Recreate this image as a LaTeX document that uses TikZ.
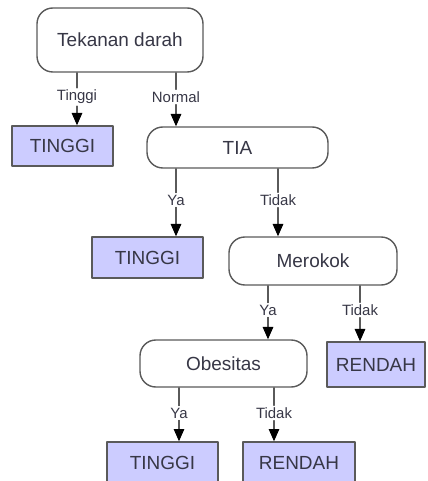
\documentclass[tikz,border=0pt]{standalone}
\usepackage{fontspec}
\setmainfont{Liberation Sans}
\usetikzlibrary{arrows.meta}
\definecolor{treeline}{RGB}{90,90,90}
\definecolor{treeleaf}{RGB}{204,204,255}
\definecolor{treetext}{RGB}{55,55,70}

\begin{document}
\begin{tikzpicture}[>={Triangle[length=7pt,width=6pt,color=black]},line cap=round,line join=round,
 attr/.style={draw=treeline,line width=0.8pt,rounded corners=9pt,fill=white,
  font=\fontsize{10.8}{12}\selectfont,text=treetext,inner sep=0pt},
 leaf/.style={draw=treeline,line width=0.8pt,fill=treeleaf,
  font=\fontsize{10.8}{12}\selectfont,text=treetext,inner sep=0pt},
 branch/.style={font=\fontsize{8.5}{10}\selectfont,text=treetext,inner sep=1pt},
 conn/.style={draw=treeline,line width=0.6pt}]
 \useasboundingbox (0,0) rectangle (8.54,-9.62);
 % Akar: tekanan darah.
 \node[attr,minimum width=3.32cm,minimum height=1.28cm] (td) at (2.40,-0.80) {Tekanan darah};
 \node[leaf,minimum width=2.02cm,minimum height=0.80cm] (t1) at (1.25,-2.92) {TINGGI};
 \node[attr,minimum width=3.62cm,minimum height=0.82cm] (tia) at (4.75,-2.95) {TIA};
 % Cabang TIA.
 \node[leaf,minimum width=2.22cm,minimum height=0.82cm] (t2) at (2.95,-5.15) {TINGGI};
 \node[attr,minimum width=3.36cm,minimum height=0.96cm] (mer) at (6.26,-5.22) {Merokok};
 % Cabang merokok.
 \node[attr,minimum width=3.34cm,minimum height=0.94cm] (obe) at (4.47,-7.27) {Obesitas};
 \node[leaf,minimum width=1.96cm,minimum height=0.90cm] (r1) at (7.52,-7.29) {RENDAH};
 % Cabang obesitas.
 \node[leaf,minimum width=2.22cm,minimum height=0.82cm] (t3) at (3.25,-9.25) {TINGGI};
 \node[leaf,minimum width=2.24cm,minimum height=0.82cm] (r2) at (5.98,-9.25) {RENDAH};
 % Label cabang.
 \node[branch] (lt) at (1.54,-1.94) {Tinggi};
 \node[branch] (ln) at (3.52,-1.94) {Normal};
 \node[branch] (ly1) at (3.52,-4.00) {Ya};
 \node[branch] (lt1) at (5.56,-4.00) {Tidak};
 \node[branch] (ly2) at (5.36,-6.20) {Ya};
 \node[branch] (lt2) at (7.20,-6.20) {Tidak};
 \node[branch] (ly3) at (3.58,-8.26) {Ya};
 \node[branch] (lt3) at (5.48,-8.26) {Tidak};
 % Garis dan panah.
 \foreach \p/\l/\c in {td/lt/t1,td/ln/tia,tia/ly1/t2,tia/lt1/mer,mer/ly2/obe,mer/lt2/r1,obe/ly3/t3,obe/lt3/r2}{
  \draw[conn] (\p.south -| \l) -- (\l.north);
  \draw[conn,->] (\l.south) -- (\l |- \c.north);
 }
\end{tikzpicture}
\end{document}
